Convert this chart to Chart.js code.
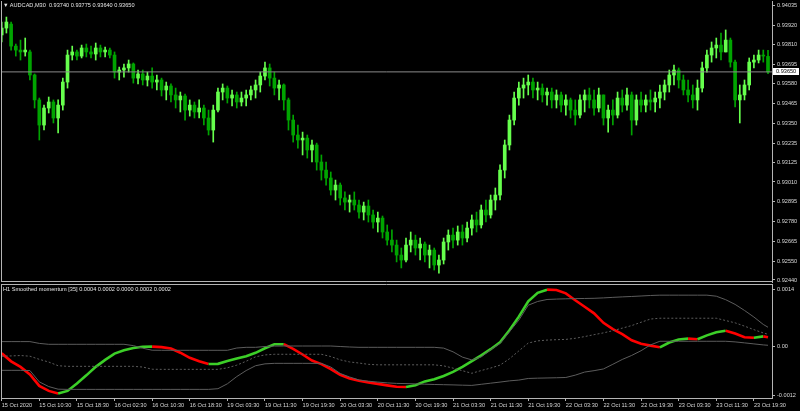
<!DOCTYPE html>
<html><head><meta charset="utf-8">
<script src="https://cdn.jsdelivr.net/npm/chart.js@4/dist/chart.umd.min.js"></script>
<style>
html,body{margin:0;padding:0;background:#000;overflow:hidden;width:800px;height:411px}
canvas{position:absolute;left:0}
#c1{top:0}
#c2{top:283px}
.t{position:absolute;color:#e6e6e6;font:5.6px "Liberation Sans",Arial,sans-serif;white-space:nowrap;line-height:7px}
</style></head><body>
<canvas id="c1" width="800" height="283"></canvas>
<canvas id="c2" width="800" height="128"></canvas>
<div class="t" style="left:3px;top:2px">&#9660; AUDCAD,M30&nbsp; 0.93740 0.93775 0.93640 0.93650</div>
<div class="t" style="left:3px;top:286px">H1 Smoothed momentum [35] 0.0004 0.0002 0.0000 0.0002 0.0002</div>
<script>
// ---- data ----
const timeLabels = ['15 Oct 2020','15 Oct 10:30','15 Oct 18:30','16 Oct 02:30','16 Oct 10:30','16 Oct 18:30','19 Oct 03:30','19 Oct 11:30','19 Oct 19:30','20 Oct 03:30','20 Oct 11:30','20 Oct 19:30','21 Oct 03:30','21 Oct 11:30','21 Oct 19:30','22 Oct 03:30','22 Oct 11:30','22 Oct 19:30','23 Oct 03:30','23 Oct 11:30','23 Oct 19:30'];
const priceTicks = [0.94035,0.93920,0.93810,0.93695,0.93580,0.93465,0.93350,0.93235,0.93125,0.93010,0.92895,0.92780,0.92665,0.92550,0.92440];
const momTicks = [0.0014, 0.0, -0.0012];
const momTickLabels = ['0.0014','0.00','-0.0012'];

const opens = [0.93865,0.93905,0.93928,0.93800,0.93777,0.93766,0.93766,0.93632,0.93487,0.93341,
0.93440,0.93475,0.93382,0.93457,0.93591,0.93748,0.93766,0.93742,0.93789,0.93766,
0.93754,0.93789,0.93766,0.93777,0.93748,0.93649,0.93661,0.93673,0.93696,0.93614,
0.93638,0.93603,0.93626,0.93591,0.93603,0.93545,0.93568,0.93516,0.93487,0.93510,
0.93428,0.93457,0.93417,0.93440,0.93382,0.93312,0.93428,0.93533,0.93556,0.93498,
0.93516,0.93475,0.93498,0.93516,0.93545,0.93574,0.93626,0.93673,0.93614,0.93556,
0.93574,0.93487,0.93370,0.93283,0.93254,0.93265,0.93196,0.93225,0.93126,0.93079,
0.93033,0.92963,0.92992,0.92917,0.92893,0.92905,0.92876,0.92835,0.92870,0.92818,
0.92777,0.92800,0.92719,0.92672,0.92643,0.92585,0.92556,0.92643,0.92672,0.92626,
0.92649,0.92585,0.92614,0.92527,0.92556,0.92661,0.92701,0.92672,0.92719,0.92684,
0.92742,0.92789,0.92760,0.92847,0.92818,0.92905,0.92934,0.93079,0.93225,0.93370,
0.93498,0.93556,0.93574,0.93591,0.93545,0.93556,0.93516,0.93533,0.93487,0.93516,
0.93457,0.93487,0.93428,0.93399,0.93487,0.93516,0.93487,0.93440,0.93516,0.93382,
0.93428,0.93399,0.93498,0.93457,0.93516,0.93370,0.93487,0.93457,0.93487,0.93475,
0.93498,0.93533,0.93574,0.93632,0.93661,0.93603,0.93545,0.93516,0.93487,0.93556,
0.93673,0.93748,0.93789,0.93806,0.93766,0.93835,0.93707,0.93487,0.93516,0.93574,
0.93707,0.93719,0.93748,0.93740];
const highs = [0.93940,0.93969,0.93940,0.93812,0.93835,0.93847,0.93777,0.93638,0.93498,0.93457,
0.93504,0.93487,0.93487,0.93614,0.93777,0.93800,0.93777,0.93806,0.93812,0.93800,
0.93818,0.93806,0.93795,0.93789,0.93766,0.93678,0.93696,0.93719,0.93702,0.93661,
0.93661,0.93649,0.93673,0.93632,0.93614,0.93591,0.93580,0.93556,0.93533,0.93521,
0.93487,0.93475,0.93487,0.93457,0.93428,0.93457,0.93556,0.93580,0.93568,0.93545,
0.93533,0.93533,0.93545,0.93568,0.93603,0.93649,0.93707,0.93696,0.93649,0.93603,
0.93580,0.93498,0.93399,0.93341,0.93300,0.93283,0.93254,0.93236,0.93167,0.93126,
0.93068,0.93021,0.93004,0.92952,0.92934,0.92952,0.92905,0.92893,0.92905,0.92847,
0.92835,0.92812,0.92760,0.92731,0.92672,0.92626,0.92684,0.92719,0.92701,0.92684,
0.92661,0.92643,0.92626,0.92585,0.92684,0.92731,0.92742,0.92754,0.92760,0.92777,
0.92818,0.92835,0.92876,0.92905,0.92934,0.92975,0.93109,0.93254,0.93399,0.93533,
0.93591,0.93614,0.93632,0.93614,0.93591,0.93580,0.93556,0.93556,0.93545,0.93533,
0.93516,0.93498,0.93487,0.93516,0.93545,0.93556,0.93545,0.93556,0.93516,0.93457,
0.93487,0.93533,0.93545,0.93556,0.93533,0.93516,0.93533,0.93516,0.93545,0.93533,
0.93574,0.93603,0.93661,0.93690,0.93673,0.93632,0.93603,0.93574,0.93603,0.93707,
0.93777,0.93824,0.93847,0.93876,0.93894,0.93847,0.93719,0.93574,0.93603,0.93731,
0.93748,0.93777,0.93777,0.93775];
const lows = [0.93824,0.93876,0.93777,0.93742,0.93719,0.93742,0.93603,0.93440,0.93254,0.93312,
0.93411,0.93353,0.93295,0.93428,0.93556,0.93719,0.93719,0.93731,0.93737,0.93731,
0.93719,0.93737,0.93737,0.93731,0.93614,0.93603,0.93620,0.93649,0.93585,0.93580,
0.93574,0.93568,0.93556,0.93545,0.93510,0.93487,0.93475,0.93440,0.93417,0.93370,
0.93393,0.93382,0.93382,0.93341,0.93283,0.93242,0.93417,0.93487,0.93469,0.93452,
0.93440,0.93452,0.93452,0.93487,0.93498,0.93533,0.93603,0.93568,0.93516,0.93487,
0.93428,0.93312,0.93242,0.93207,0.93167,0.93149,0.93126,0.93079,0.93021,0.92992,
0.92934,0.92905,0.92876,0.92847,0.92835,0.92847,0.92800,0.92789,0.92777,0.92742,
0.92719,0.92684,0.92643,0.92603,0.92545,0.92510,0.92545,0.92603,0.92585,0.92556,
0.92545,0.92510,0.92498,0.92480,0.92533,0.92614,0.92626,0.92643,0.92643,0.92661,
0.92701,0.92719,0.92742,0.92777,0.92800,0.92847,0.92905,0.93033,0.93196,0.93341,
0.93457,0.93498,0.93516,0.93498,0.93487,0.93475,0.93457,0.93440,0.93440,0.93417,
0.93399,0.93382,0.93341,0.93382,0.93417,0.93440,0.93399,0.93417,0.93341,0.93300,
0.93341,0.93382,0.93417,0.93428,0.93283,0.93341,0.93417,0.93417,0.93428,0.93417,
0.93440,0.93487,0.93533,0.93574,0.93556,0.93516,0.93475,0.93440,0.93428,0.93533,
0.93649,0.93707,0.93731,0.93719,0.93766,0.93678,0.93446,0.93353,0.93487,0.93545,
0.93673,0.93702,0.93707,0.93640];
const closes = [0.93905,0.93940,0.93800,0.93777,0.93766,0.93777,0.93632,0.93487,0.93341,0.93440,
0.93475,0.93382,0.93457,0.93591,0.93748,0.93766,0.93742,0.93789,0.93766,0.93754,
0.93789,0.93766,0.93777,0.93748,0.93649,0.93661,0.93673,0.93696,0.93614,0.93638,
0.93603,0.93626,0.93591,0.93603,0.93545,0.93568,0.93516,0.93487,0.93510,0.93428,
0.93457,0.93417,0.93440,0.93382,0.93312,0.93428,0.93533,0.93556,0.93498,0.93516,
0.93475,0.93498,0.93516,0.93545,0.93574,0.93626,0.93673,0.93614,0.93556,0.93574,
0.93487,0.93370,0.93283,0.93254,0.93265,0.93196,0.93225,0.93126,0.93079,0.93033,
0.92963,0.92992,0.92917,0.92893,0.92905,0.92876,0.92835,0.92870,0.92818,0.92777,
0.92800,0.92719,0.92672,0.92643,0.92585,0.92556,0.92643,0.92672,0.92626,0.92649,
0.92585,0.92614,0.92527,0.92556,0.92661,0.92701,0.92672,0.92719,0.92684,0.92742,
0.92789,0.92760,0.92847,0.92818,0.92905,0.92934,0.93079,0.93225,0.93370,0.93498,
0.93556,0.93574,0.93591,0.93545,0.93556,0.93516,0.93533,0.93487,0.93516,0.93457,
0.93487,0.93428,0.93399,0.93487,0.93516,0.93487,0.93440,0.93516,0.93382,0.93428,
0.93399,0.93498,0.93457,0.93516,0.93370,0.93487,0.93457,0.93487,0.93475,0.93498,
0.93533,0.93574,0.93632,0.93661,0.93603,0.93545,0.93516,0.93487,0.93556,0.93673,
0.93748,0.93789,0.93806,0.93766,0.93835,0.93707,0.93487,0.93516,0.93574,0.93707,
0.93719,0.93748,0.93742,0.93650];

// smoothed momentum (x10^-4), sampled every 4 M30 bars
const momIdx = [0,4,8,12,16,20,24,28,32,36,40,44,48,52,56,60,64,68,72,76,80,84,88,92,96,100,104,108,112,116,120,124,128,132,136,140,144,148,152,156,160,164,168,172,176,180,184,188,192,196,200,204,208,212,216,220,224,228,232,236,240,244,248,252,256,260,264,268,272,276,280,284,288,292,296,300,304,308,312,316,320,324,326];
const momentum = [-1.72,-3.68,-5.04,-6.88,-9.70,-10.93,-11.54,-10.93,-9.09,-7.12,-5.04,-3.32,-1.79,-0.98,-0.42,-0.10,-0.07,-0.20,-0.56,-1.57,-2.82,-3.68,-4.35,-4.30,-3.59,-3.00,-2.46,-1.60,-0.49,0.49,0.52,-0.64,-2.01,-3.49,-4.37,-5.58,-6.98,-7.91,-8.45,-8.84,-9.21,-9.58,-9.90,-9.97,-9.53,-8.60,-8.06,-7.27,-6.26,-5.04,-3.64,-2.21,-0.71,0.96,3.91,7.27,11.00,13.09,13.88,13.78,12.97,11.30,9.70,8.08,5.75,4.22,3.00,1.47,0.61,0.17,-0.25,0.93,1.67,1.87,1.74,2.68,3.44,3.83,3.14,2.21,2.11,2.43,2.21];
const upperBand = [1.15,1.15,1.15,1.15,0.71,0.49,0.49,0.49,0.49,0.49,0.49,0.49,0.49,0.49,0.17,-0.47,-0.96,-0.98,-0.98,-0.98,-0.98,-0.98,-0.98,-0.98,-0.98,-0.42,-0.25,-0.25,-0.05,0.05,0.07,0.07,0.07,0.07,0.07,0.07,-0.05,-0.17,-0.25,-0.25,-0.25,-0.25,-0.25,-0.25,-0.25,-0.25,-0.25,-0.44,-1.35,-2.65,-3.34,-2.60,-0.84,0.71,3.56,6.41,10.07,10.98,11.47,11.57,11.64,11.69,11.72,11.76,11.86,11.99,12.11,12.21,12.33,12.45,12.53,12.53,12.53,12.53,12.53,12.53,12.28,11.42,10.27,8.79,7.17,5.35,4.67];
const middleBand = [-2.43,-2.36,-2.26,-2.43,-3.19,-3.86,-4.76,-4.91,-4.91,-4.91,-4.91,-4.91,-4.91,-4.91,-4.91,-5.08,-5.62,-5.65,-5.65,-5.65,-5.65,-5.65,-5.65,-5.65,-5.28,-4.62,-3.66,-2.58,-2.11,-1.96,-1.96,-1.96,-1.96,-1.96,-1.96,-2.51,-3.32,-3.83,-4.10,-4.42,-4.54,-4.54,-4.54,-4.54,-4.54,-4.54,-4.54,-4.79,-5.35,-5.99,-6.61,-5.94,-5.33,-4.62,-3.05,-1.13,0.79,1.33,1.52,1.62,1.69,1.96,2.38,2.85,3.29,3.83,4.45,5.08,5.89,6.68,6.88,6.88,6.88,6.88,6.88,6.88,6.88,6.31,5.75,4.94,4.08,3.27,2.95];
const lowerBand = [-5.89,-5.89,-5.89,-5.94,-8.72,-9.87,-10.51,-10.56,-10.56,-10.56,-10.56,-10.56,-10.56,-10.56,-10.56,-10.56,-10.56,-10.56,-10.56,-10.56,-10.56,-10.56,-10.56,-10.39,-9.19,-7.42,-5.94,-4.76,-4.30,-4.18,-4.18,-4.18,-4.18,-4.18,-4.18,-5.08,-6.66,-7.52,-8.25,-8.55,-8.77,-8.96,-9.09,-9.14,-9.21,-9.28,-9.36,-9.41,-9.46,-9.53,-9.58,-9.31,-9.04,-8.77,-8.47,-8.28,-7.88,-7.81,-7.76,-7.71,-7.64,-7.07,-6.31,-5.97,-5.55,-4.40,-3.22,-2.24,-1.08,0.34,1.23,1.23,1.23,1.23,1.23,1.23,1.23,1.23,1.08,0.84,0.59,0.34,0.25];

// ---- build ----
const UP = '#66ff4d', DOWN = '#00a400', AX = '#b4b4b4', TXT = '#d8d8d8';
const FONT = {family:'"Liberation Sans", Arial, sans-serif', size:5.6};
const X_MIN = -0.3, X_MAX = 327.7;
const wicks = closes.map((c,k) => ({x:k*2, y:[lows[k], highs[k]], up: c >= opens[k]}));
const bodies = closes.map((c,k) => ({x:k*2, y:[opens[k], c], up: c >= opens[k]}));
const lastPrice = closes[closes.length-1];
const pts = arr => arr.map((v,i)=>({x:momIdx[i], y:v/10000}));
const noPad = s => { s.paddingTop = 0; s.paddingBottom = 0; s.paddingLeft = 0; s.paddingRight = 0; };
const candleColor = c => (c.raw && c.raw.up) ? UP : DOWN;

const frame = {
  id:'frame',
  afterDraw(chart, args, opts){
    const {ctx, chartArea:a} = chart;
    ctx.save();
    ctx.strokeStyle = AX; ctx.lineWidth = 1;
    ctx.beginPath();
    ctx.moveTo(a.left+0.5, a.top); ctx.lineTo(a.left+0.5, a.bottom);
    if (opts.top) { ctx.moveTo(a.left, a.top+0.5); ctx.lineTo(a.right, a.top+0.5); }
    if (opts.bottom) { ctx.moveTo(a.left, a.bottom-0.5); ctx.lineTo(a.right, a.bottom-0.5); }
    ctx.stroke();
    if (opts.priceBox) {
      const y = chart.scales.y.getPixelForValue(lastPrice);
      ctx.fillStyle = '#ffffff';
      ctx.fillRect(a.right+1, Math.round(y)-4, 26, 7);
      ctx.fillStyle = '#000';
      ctx.font = '5.6px "Liberation Sans", Arial, sans-serif';
      ctx.textBaseline = 'middle';
      ctx.fillText(lastPrice.toFixed(5), a.right+4, Math.round(y)-0.5);
    }
    ctx.restore();
  }
};

Chart.defaults.animation = false;
Chart.defaults.responsive = false;
Chart.defaults.devicePixelRatio = 1;
Chart.defaults.plugins.legend.display = false;
Chart.defaults.plugins.tooltip.enabled = false;

new Chart(document.getElementById('c1'), {
  type:'bar',
  data:{datasets:[
    {type:'line', data:[{x:X_MIN,y:lastPrice},{x:X_MAX,y:lastPrice}], borderColor:'#8a8a8a', borderWidth:1, pointRadius:0, order:0},
    {data:bodies, grouped:false, barThickness:3, minBarLength:1, order:1, backgroundColor:candleColor},
    {data:wicks, grouped:false, barThickness:1, order:2, backgroundColor:candleColor}
  ]},
  options:{
    layout:{padding:{left:1,top:1,bottom:1,right:0}},
    plugins:{frame:{top:false,bottom:true,priceBox:true}},
    scales:{
      x:{type:'linear', min:X_MIN, max:X_MAX, display:false, offset:false},
      y:{position:'right', min:0.924283, max:0.940623,
         afterBuildTicks: s => { s.ticks = priceTicks.map(v=>({value:v})); },
         afterFit: s => { s.width = 28; noPad(s); },
         ticks:{color:TXT, font:FONT, padding:2, autoSkip:false, callback: v => v.toFixed(5)},
         grid:{drawOnChartArea:false, tickLength:3, color:AX},
         border:{color:AX}}
    }
  },
  plugins:[frame]
});

new Chart(document.getElementById('c2'), {
  type:'line',
  data:{datasets:[
    {data:pts(upperBand), borderColor:'#5c5c5c', borderWidth:1, pointRadius:0},
    {data:pts(middleBand), borderColor:'#5c5c5c', borderWidth:1, borderDash:[2,2], pointRadius:0},
    {data:pts(lowerBand), borderColor:'#5c5c5c', borderWidth:1, pointRadius:0},
    {data:pts(momentum), borderWidth:2.6, pointRadius:0,
     segment:{borderColor: c => c.p1.parsed.y >= c.p0.parsed.y ? '#3ccf28' : '#ff0000'}}
  ]},
  options:{
    layout:{padding:{left:1,top:1,bottom:0,right:0}},
    plugins:{frame:{top:true,bottom:false,priceBox:false}},
    scales:{
      x:{type:'linear', min:X_MIN, max:X_MAX, offset:false,
         afterBuildTicks: s => { s.ticks = timeLabels.map((l,i)=>({value:i*16})); },
         afterFit: s => { s.height = 13; noPad(s); },
         ticks:{color:TXT, font:FONT, align:'start', maxRotation:0, autoSkip:false, padding:1,
                callback:(v,i)=>timeLabels[i]},
         grid:{drawOnChartArea:false, tickLength:3, color:AX},
         border:{color:AX}},
      y:{position:'right', min:-0.001267, max:0.0015267,
         afterBuildTicks: s => { s.ticks = momTicks.map(v=>({value:v})); },
         afterFit: s => { s.width = 28; noPad(s); },
         ticks:{color:TXT, font:FONT, padding:2, autoSkip:false, callback:(v,i)=>momTickLabels[i]},
         grid:{drawOnChartArea:false, tickLength:3, color:AX},
         border:{color:AX}}
    }
  },
  plugins:[frame]
});
</script></body></html>
